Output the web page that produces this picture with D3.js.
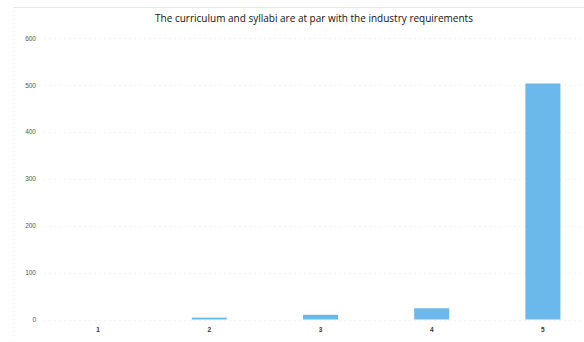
<!DOCTYPE html>
<html>
<head>
<meta charset="utf-8">
<script src="https://cdn.jsdelivr.net/npm/d3@7"></script>
<style>
  html, body { margin: 0; padding: 0; background: #fff; }
  svg { display: block; }
</style>
</head>
<body>
<svg id="chart" width="584" height="342"></svg>
<script>
// Responses on a 1–5 agreement scale
const categories = ["1", "2", "3", "4", "5"];
const counts = [0, 4, 10, 24, 503];
const yTicks = [0, 100, 200, 300, 400, 500, 600];
const title = "The curriculum and syllabi are at par with the industry requirements";

const svg = d3.select("#chart");
const W = 584, H = 342;

const x = d3.scaleBand()
  .domain(categories)
  .range([42.5, 598.5])
  .paddingInner(0.685)
  .paddingOuter(0.3425);

const y = d3.scaleLinear()
  .domain([0, 600])
  .range([319.5, 38]);

// faint outer frame
svg.append("line")
  .attr("x1", 14).attr("x2", W).attr("y1", 7.5).attr("y2", 7.5)
  .attr("stroke", "#e6e6e6").attr("stroke-width", 1);
svg.append("line")
  .attr("x1", 13.5).attr("x2", 13.5).attr("y1", 7).attr("y2", H)
  .attr("stroke", "#ececec").attr("stroke-width", 1)
  .attr("stroke-dasharray", "1,3");

// horizontal gridlines
svg.append("g")
  .selectAll("line")
  .data(yTicks)
  .join("line")
  .attr("x1", 44).attr("x2", W)
  .attr("y1", d => Math.round(y(d)) + 0.5)
  .attr("y2", d => Math.round(y(d)) + 0.5)
  .attr("stroke", "#f2f2f2")
  .attr("stroke-width", 1)
  .attr("stroke-dasharray", "2,3");

// y axis labels
const yAxis = d3.axisLeft(y).tickValues(yTicks).tickSize(0).tickPadding(0);
const gy = svg.append("g")
  .attr("transform", "translate(36,0)")
  .call(yAxis);
gy.select(".domain").remove();
gy.selectAll("text")
  .attr("font-family", "Liberation Sans, Arial, sans-serif")
  .attr("font-size", 6.5)
  .attr("fill", "#555");

// bars
svg.append("g")
  .selectAll("rect")
  .data(categories.map((c, i) => ({ c, v: counts[i] })))
  .join("rect")
  .attr("x", d => x(d.c))
  .attr("width", x.bandwidth())
  .attr("y", d => y(d.v))
  .attr("height", d => y(0) - y(d.v))
  .attr("fill", "#6ab8ec");

// x axis labels
const xAxis = d3.axisBottom(x).tickSize(0).tickPadding(0);
const gx = svg.append("g")
  .attr("transform", "translate(0,327)")
  .call(xAxis);
gx.select(".domain").remove();
gx.selectAll("text")
  .attr("font-family", "Liberation Sans, Arial, sans-serif")
  .attr("font-size", 6.5)
  .attr("font-weight", "bold")
  .attr("fill", "#333");

// title
svg.append("text")
  .attr("x", 314)
  .attr("y", 22)
  .attr("text-anchor", "middle")
  .attr("font-family", "Open Sans, Liberation Sans, sans-serif")
  .attr("font-size", 10)
  .attr("fill", "#111")
  .text(title);
</script>
</body>
</html>
